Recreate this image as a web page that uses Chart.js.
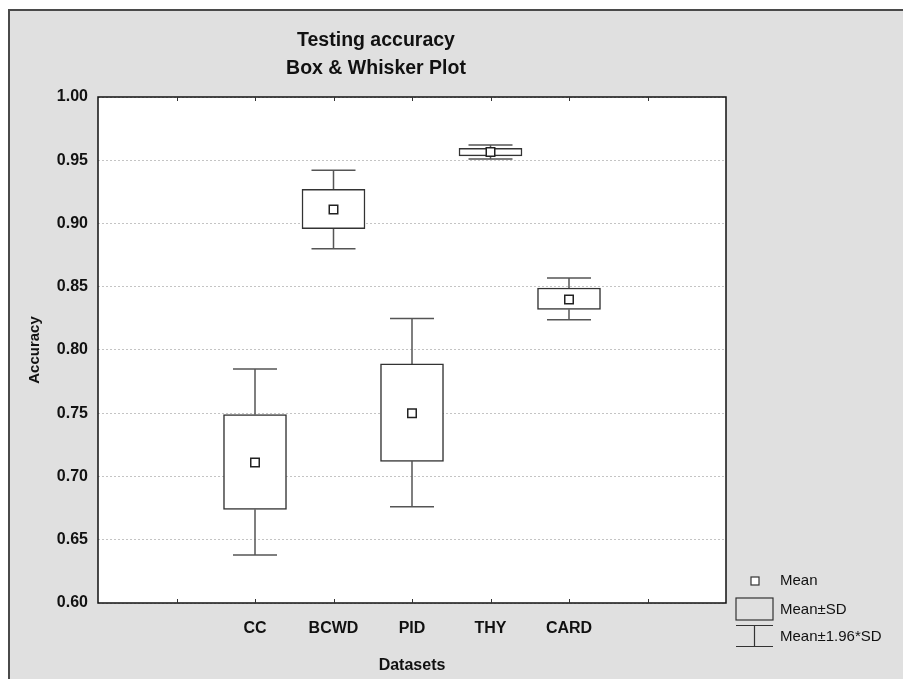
<!DOCTYPE html>
<html><head><meta charset="utf-8">
<script src="https://cdn.jsdelivr.net/npm/chart.js@4"></script>
<style>html,body{margin:0;padding:0;background:#fff}#wrap{width:903px;height:679px}</style>
</head><body><div id="wrap"><canvas id="c" width="903" height="679"></canvas></div>
<script>
// ---- data ----
const categories = ['CC', 'BCWD', 'PID', 'THY', 'CARD'];
const means  = [0.711, 0.911, 0.750, 0.9565, 0.840];
const sdLow  = [0.674, 0.896, 0.712, 0.9535, 0.832];
const sdHigh = [0.749, 0.927, 0.789, 0.9595, 0.849];
const ciLow  = [0.638, 0.880, 0.676, 0.951, 0.824];
const ciHigh = [0.785, 0.942, 0.825, 0.962, 0.857];
const yTickLabels = ['0.60', '0.65', '0.70', '0.75', '0.80', '0.85', '0.90', '0.95', '1.00'];
const titleLines = ['Testing accuracy', 'Box & Whisker Plot'];
const legendLabels = ['Mean', 'Mean\u00B1SD', 'Mean\u00B11.96*SD'];
const xTitle = 'Datasets';
const yTitle = 'Accuracy';

const FIRST_SLOT = 2;   // first category sits on slot 2 of a 0..8 axis
const SLOTS = 8;
const FONT = '"Liberation Sans", Arial, Helvetica, sans-serif';
Chart.defaults.font.family = FONT;

const xPos = categories.map((_, i) => i + FIRST_SLOT);
const boxData = categories.map((_, i) => ({ x: xPos[i], y: [sdLow[i], sdHigh[i]] }));
const meanData = categories.map((_, i) => ({ x: xPos[i], y: means[i] }));
const capData = [];
const stemData = [];
categories.forEach((_, i) => {
  capData.push({ x: xPos[i], y: ciHigh[i] }, { x: xPos[i], y: ciLow[i] });
  stemData.push({ x: xPos[i], y: ciHigh[i] }, { x: xPos[i], y: sdHigh[i] }, { x: xPos[i], y: null },
                { x: xPos[i], y: sdLow[i] }, { x: xPos[i], y: ciLow[i] }, { x: xPos[i], y: null });
});

const framePlugin = {
  id: 'frame',
  beforeDraw(chart) {
    const ctx = chart.ctx, a = chart.chartArea;
    ctx.save();
    ctx.fillStyle = '#ffffff';
    ctx.fillRect(0, 0, chart.width, chart.height);
    ctx.fillStyle = '#e0e0e0';
    ctx.fillRect(9, 10, chart.width - 9, chart.height - 10);
    ctx.strokeStyle = '#4a4a4a';
    ctx.lineWidth = 2;
    ctx.beginPath();
    ctx.moveTo(9, chart.height); ctx.lineTo(9, 10); ctx.lineTo(chart.width, 10);
    ctx.stroke();
    ctx.fillStyle = '#ffffff';
    ctx.fillRect(a.left, a.top, a.right - a.left, a.bottom - a.top);
    ctx.restore();
  },
  afterDraw(chart) {
    const ctx = chart.ctx, a = chart.chartArea, xs = chart.scales.x;
    ctx.save();
    // plot border
    ctx.strokeStyle = '#111';
    ctx.lineWidth = 1.5;
    ctx.strokeRect(a.left, a.top, a.right - a.left, a.bottom - a.top);
    // inside tick marks on top and bottom
    ctx.lineWidth = 1;
    ctx.strokeStyle = '#333';
    for (let v = 1; v < SLOTS; v++) {
      const px = Math.round(xs.getPixelForValue(v)) + 0.5;
      ctx.beginPath();
      ctx.moveTo(px, a.bottom); ctx.lineTo(px, a.bottom - 4);
      ctx.moveTo(px, a.top); ctx.lineTo(px, a.top + 4);
      ctx.stroke();
    }
    // titles
    ctx.fillStyle = '#111';
    ctx.textAlign = 'center';
    ctx.textBaseline = 'middle';
    ctx.font = 'bold 19.5px ' + FONT;
    ctx.fillText(titleLines[0], 376, 41);
    ctx.fillText(titleLines[1], 376, 69);
    // legend
    ctx.font = '15px ' + FONT;
    ctx.textAlign = 'left';
    ctx.fillText(legendLabels[0], 780, 581);
    ctx.fillText(legendLabels[1], 780, 610);
    ctx.fillText(legendLabels[2], 780, 637);
    ctx.strokeStyle = '#333';
    ctx.lineWidth = 1.2;
    ctx.fillStyle = '#fff';
    ctx.fillRect(751, 577, 8, 8);
    ctx.strokeRect(751, 577, 8, 8);
    ctx.strokeRect(736, 598, 37, 22);
    ctx.beginPath();
    ctx.moveTo(736, 625.5); ctx.lineTo(773, 625.5);
    ctx.moveTo(736, 646.5); ctx.lineTo(773, 646.5);
    ctx.moveTo(754.5, 625.5); ctx.lineTo(754.5, 646.5);
    ctx.stroke();
    ctx.restore();
  }
};

new Chart(document.getElementById('c'), {
  type: 'bar',
  data: {
    datasets: [
      { type: 'scatter', label: 'Mean', data: meanData, order: 0,
        pointStyle: 'rect', pointRadius: 6, pointBackgroundColor: '#fff',
        pointBorderColor: '#222', pointBorderWidth: 1.5, showLine: false },
      { type: 'bar', label: 'Mean±SD', data: boxData, order: 1,
        backgroundColor: '#fff', borderColor: '#333', borderWidth: 1.5,
        borderSkipped: false, barThickness: 63, grouped: false },
      { type: 'line', label: 'stems', data: stemData, order: 2,
        borderColor: '#555', borderWidth: 1.5, pointRadius: 0, spanGaps: false, tension: 0, fill: false },
      { type: 'scatter', label: 'caps', data: capData, order: 2,
        pointStyle: 'line', pointRadius: 22, pointBorderColor: '#555', pointBorderWidth: 1.5, showLine: false }
    ]
  },
  options: {
    responsive: false,
    animation: false,
    events: [],
    layout: { padding: { left: 0, top: 97, right: 177, bottom: 0 } },
    plugins: { legend: { display: false }, tooltip: { enabled: false }, title: { display: false } },
    scales: {
      x: {
        type: 'linear', min: 0, max: SLOTS, offset: false,
        grid: { display: false, drawTicks: false },
        border: { display: false },
        ticks: {
          stepSize: 1, autoSkip: false, maxRotation: 0, padding: 16,
          color: '#111', font: { size: 16, weight: 'bold' },
          callback: v => {
            const k = v - FIRST_SLOT;
            return (Number.isInteger(k) && k >= 0 && k < categories.length) ? categories[k] : '';
          }
        },
        title: { display: true, text: xTitle, color: '#111', font: { size: 16, weight: 'bold' }, padding: { top: 0, bottom: 4 } },
        afterFit: s => { s.height = 76; }
      },
      y: {
        min: 0.6, max: 1.0,
        grid: { color: '#c4c4c4', lineWidth: 1, drawTicks: false },
        border: { display: false, dash: [2, 2] },
        ticks: {
          stepSize: 0.05, padding: 10, color: '#111', font: { size: 16, weight: 'bold' },
          callback: (v) => {
            const idx = Math.round((v - 0.6) / 0.05);
            return yTickLabels[idx] !== undefined ? yTickLabels[idx] : '';
          }
        },
        title: { display: true, text: yTitle, color: '#111', font: { size: 15, weight: 'bold' }, padding: { top: 26, bottom: 0 } },
        afterFit: s => { s.width = 98; }
      }
    }
  },
  plugins: [framePlugin]
});
</script>
</body></html>
